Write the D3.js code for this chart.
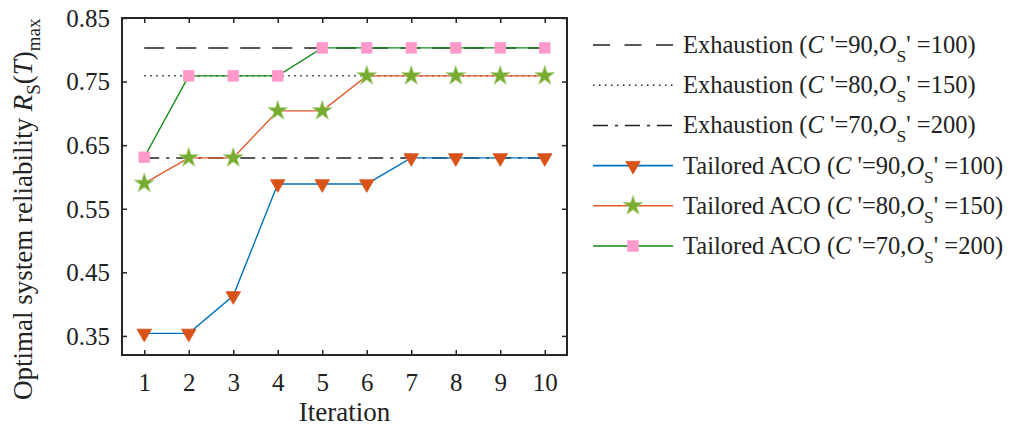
<!DOCTYPE html>
<html>
<head>
<meta charset="utf-8">
<script src="https://cdn.jsdelivr.net/npm/d3@7.9.0/dist/d3.min.js"></script>
<style>
  html, body { margin: 0; padding: 0; background: #fff; }
  svg { display: block; font-family: "Liberation Serif", "Times New Roman", serif; }
</style>
</head>
<body>
<svg id="chart" width="1013" height="432"></svg>
<script>
// iterations on the x axis
const iterations = [1, 2, 3, 4, 5, 6, 7, 8, 9, 10];

// exhaustive search optima (flat reference lines)
const exhaust90 = 0.803;
const exhaust80 = 0.759;
const exhaust70 = 0.630;

// tailored ACO convergence per iteration
const aco90 = [0.354, 0.354, 0.413, 0.589, 0.589, 0.589, 0.630, 0.630, 0.630, 0.630];
const aco80 = [0.590, 0.630, 0.630, 0.704, 0.704, 0.759, 0.759, 0.759, 0.759, 0.759];
const aco70 = [0.631, 0.759, 0.759, 0.759, 0.803, 0.803, 0.803, 0.803, 0.803, 0.803];

const yTicks = [0.35, 0.45, 0.55, 0.65, 0.75, 0.85];
const legendNames = [
  ["Exhaustion", "90", "100"],
  ["Exhaustion", "80", "150"],
  ["Exhaustion", "70", "200"],
  ["Tailored ACO", "90", "100"],
  ["Tailored ACO", "80", "150"],
  ["Tailored ACO", "70", "200"]
];

const svg = d3.select("#chart");
const plot = { left: 122, right: 567, top: 18, bottom: 355 };
const axisColor = "#262626";

const x = d3.scaleLinear().domain([0.5, 10.5]).range([plot.left, plot.right]);
const y = d3.scaleLinear().domain([0.32, 0.85]).range([plot.bottom, plot.top]);

const exhaustion = [
  { value: exhaust90, dash: "20,12" },
  { value: exhaust80, dash: "1.5,4.5" },
  { value: exhaust70, dash: "15,7,3,7" }
];

const triangle = d3.symbol().type(d3.symbolTriangle).size(92);
const star = d3.symbol().type(d3.symbolStar).size(120);
const square = d3.symbol().type(d3.symbolSquare).size(112);

const series = [
  { values: aco90, line: "#0072bd", fill: "#d95319", stroke: "#d95319", path: triangle(), rot: 180 },
  { values: aco80, line: "#e0582a", fill: "#77ac30", stroke: "#a9cf80", path: star(), rot: 0 },
  { values: aco70, line: "#138a13", fill: "#ff99cc", stroke: "#ff99cc", path: square(), rot: 0 }
];

// reference lines
svg.append("g").selectAll("line")
  .data(exhaustion)
  .join("line")
  .attr("x1", x(iterations[0]))
  .attr("x2", x(iterations[iterations.length - 1]))
  .attr("y1", d => y(d.value))
  .attr("y2", d => y(d.value))
  .attr("stroke", "#222")
  .attr("stroke-width", 1.5)
  .attr("stroke-dasharray", d => d.dash);

const line = d3.line()
  .x((d, i) => x(iterations[i]))
  .y(d => y(d));

series.forEach(s => {
  svg.append("path")
    .datum(s.values)
    .attr("fill", "none")
    .attr("stroke", s.line)
    .attr("stroke-width", 1.4)
    .attr("d", line);
});

series.forEach(s => {
  svg.append("g").selectAll("path")
    .data(s.values)
    .join("path")
    .attr("d", s.path)
    .attr("transform", (d, i) => `translate(${x(iterations[i])},${y(d)}) rotate(${s.rot})`)
    .attr("fill", s.fill)
    .attr("stroke", s.stroke)
    .attr("stroke-width", 0.8);
});

// axes: box with inward ticks on all sides
const bottomAxis = d3.axisBottom(x).tickValues(iterations).tickSizeInner(-5).tickSizeOuter(0);
const topAxis = d3.axisTop(x).tickValues(iterations).tickSizeInner(-5).tickSizeOuter(0).tickFormat("");
const leftAxis = d3.axisLeft(y).tickValues(yTicks).tickSizeInner(-5).tickSizeOuter(0).tickPadding(12).tickFormat(d3.format(".2f"));
const rightAxis = d3.axisRight(y).tickValues(yTicks).tickSizeInner(-5).tickSizeOuter(0).tickFormat("");

function styleAxis(g) {
  g.select(".domain").remove();
  g.selectAll(".tick line").attr("stroke", axisColor).attr("stroke-width", 1.5);
  g.selectAll(".tick text")
    .attr("fill", "#222")
    .attr("font-size", "25px")
    .attr("font-family", "Liberation Serif, Times New Roman, serif");
}

svg.append("g").attr("transform", `translate(0,${plot.bottom})`).call(bottomAxis).call(styleAxis)
  .selectAll(".tick text").attr("dy", null).attr("y", 36);
svg.append("g").attr("transform", `translate(0,${plot.top})`).call(topAxis).call(styleAxis);
svg.append("g").attr("transform", `translate(${plot.left},0)`).call(leftAxis).call(styleAxis)
  .selectAll(".tick text").attr("dy", "0.33em");
svg.append("g").attr("transform", `translate(${plot.right},0)`).call(rightAxis).call(styleAxis);

svg.append("rect")
  .attr("x", plot.left)
  .attr("y", plot.top)
  .attr("width", plot.right - plot.left)
  .attr("height", plot.bottom - plot.top)
  .attr("fill", "none")
  .attr("stroke", axisColor)
  .attr("stroke-width", 2);

// axis titles
svg.append("text")
  .attr("x", (plot.left + plot.right) / 2)
  .attr("y", 421)
  .attr("text-anchor", "middle")
  .attr("font-size", "27px")
  .attr("fill", "#222")
  .text("Iteration");

const ylab = svg.append("text")
  .attr("transform", "translate(32,400) rotate(-90)")
  .attr("font-size", "27px")
  .attr("fill", "#222");
ylab.append("tspan").text("Optimal system reliability ");
ylab.append("tspan").attr("font-style", "italic").text("R");
ylab.append("tspan").attr("font-size", "19px").attr("dy", 8).text("S");
ylab.append("tspan").attr("dy", -8).text("(");
ylab.append("tspan").attr("font-style", "italic").text("T");
ylab.append("tspan").text(")");
ylab.append("tspan").attr("font-size", "19px").attr("dy", 8).text("max");

// legend
const legend = svg.append("g");
const legendX0 = 593, legendX1 = 673, legendY0 = 45, legendStep = 40.2;
const legendDash = ["17,14.5", "1.5,4.5", "15,7,3,7"];

legendNames.forEach((name, i) => {
  const ly = legendY0 + i * legendStep;
  const row = legend.append("g");
  if (i < 3) {
    row.append("line")
      .attr("x1", legendX0).attr("x2", legendX1)
      .attr("y1", ly).attr("y2", ly)
      .attr("stroke", "#222")
      .attr("stroke-width", 1.5)
      .attr("stroke-dasharray", legendDash[i]);
  } else {
    const s = series[i - 3];
    row.append("line")
      .attr("x1", legendX0).attr("x2", legendX1)
      .attr("y1", ly).attr("y2", ly)
      .attr("stroke", s.line)
      .attr("stroke-width", 1.6);
    row.append("path")
      .attr("d", s.path)
      .attr("transform", `translate(${(legendX0 + legendX1) / 2},${ly}) rotate(${s.rot})`)
      .attr("fill", s.fill)
      .attr("stroke", s.stroke)
      .attr("stroke-width", 0.8);
  }
  const t = row.append("text")
    .attr("x", 683)
    .attr("y", ly + 8)
    .attr("font-size", "24.5px")
    .attr("fill", "#222");
  t.append("tspan").text(name[0] + " (");
  t.append("tspan").attr("font-style", "italic").text("C");
  t.append("tspan").text(" '=" + name[1] + ",");
  t.append("tspan").attr("font-style", "italic").text("O");
  t.append("tspan").attr("font-size", "17.5px").attr("dy", 9).text("S");
  t.append("tspan").attr("dy", -9).text("' =" + name[2] + ")");
});
</script>
</body>
</html>
